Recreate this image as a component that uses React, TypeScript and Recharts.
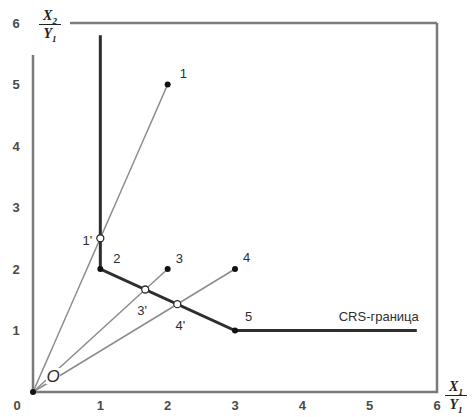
import React from "react";
import {
  ComposedChart, Line, Scatter, XAxis, YAxis, LabelList,
} from "recharts";

const W = 473;
const H = 417;

const X_TICKS = [0, 1, 2, 3, 4, 5, 6];
const Y_TICKS = [1, 2, 3, 4, 5, 6];

// box around the plot (data coords)
const LEFT_AXIS = [{ x: 0, y: 0 }, { x: 0, y: 5.48 }];
const BOTTOM_RIGHT = [{ x: 0, y: 0 }, { x: 6, y: 0 }, { x: 6, y: 6 }];
const TOP_LINE = [{ x: 0.55, y: 6 }, { x: 6, y: 6 }];

// efficient frontier
const FRONTIER = [
  { x: 1, y: 5.8 },
  { x: 1, y: 2 },
  { x: 3, y: 1 },
  { x: 5.7, y: 1 },
];

// rays from origin
const RAY_1 = [{ x: 0, y: 0 }, { x: 2, y: 5 }];
const RAY_3 = [{ x: 0, y: 0 }, { x: 2, y: 2 }];
const RAY_4 = [{ x: 0, y: 0 }, { x: 3, y: 2 }];

const UNITS = [
  { name: "1", x: 2, y: 5 },
  { name: "2", x: 1, y: 2 },
  { name: "3", x: 2, y: 2 },
  { name: "4", x: 3, y: 2 },
  { name: "5", x: 3, y: 1 },
];
const ORIGIN = [{ name: "O", x: 0, y: 0 }];
const PROJECTIONS = [
  { name: "1'", x: 1, y: 2.5 },
  { name: "3'", x: 5 / 3, y: 5 / 3 },
  { name: "4'", x: 15 / 7, y: 10 / 7 },
];
const FRONTIER_LABEL = [{ name: "CRS-граница", x: 5.7, y: 1 }];

const LABEL_OFFSET: Record<string, [number, number, string]> = {
  "1": [12, -11, "start"],
  "2": [13, -11, "start"],
  "3": [8, -11, "start"],
  "4": [8, -12, "start"],
  "5": [10, -14, "start"],
  "1'": [-8, 2, "end"],
  "3'": [-3, 21, "middle"],
  "4'": [3, 21, "middle"],
  "O": [20, -16, "middle"],
  "CRS-граница": [2, -14, "end"],
};

const FRAME = "#7a7a7a";
const RAY = "#8c8c8c";
const DARK = "#2e2e2e";
const TICK = "#4a4a4a";
const FONT = "'Liberation Sans', Arial, sans-serif";

const PointLabel = (props: any) => {
  const { x, y, width, height, value } = props;
  const cx = x + (width || 0) / 2;
  const cy = y + (height || 0) / 2;
  const [dx, dy, anchor] = LABEL_OFFSET[value] || [0, 0, "start"];
  const isO = value === "O";
  return (
    <g>
      {isO && <rect x={cx + dx - 7} y={cy + dy - 8} width={14} height={16} fill="#fff" />}
      <text x={cx + dx} y={cy + dy} textAnchor={anchor} dominantBaseline="central"
        fontFamily={FONT} fontSize={isO ? 17 : 13}
        fontStyle={isO ? "italic" : "normal"} fill={DARK}>
        {value}
      </text>
    </g>
  );
};

const XTick = ({ x, y, payload }: any) => (
  <text x={payload.value === 0 ? x - 16 : x} y={y + 10} textAnchor="middle"
    fontFamily={FONT} fontSize={13} fontWeight="bold" fill={TICK}>
    {payload.value}
  </text>
);

const YTick = ({ y, payload }: any) => (
  <text x={16} y={y} textAnchor="middle" dominantBaseline="central"
    fontFamily={FONT} fontSize={13} fontWeight="bold" fill={TICK}>
    {payload.value}
  </text>
);

const dot = (fill: string) => (p: any) =>
  <circle cx={p.cx} cy={p.cy} r={3} fill={fill} />;

const openDot = (p: any) =>
  <circle cx={p.cx} cy={p.cy} r={3.5} fill="#fff" stroke={DARK} strokeWidth={1.3} />;

const noDot = () => <g />;

const Frac = ({ top, left, num }: { top: number; left: number; num: string }) => (
  <div style={{
    position: "absolute", top, left, fontFamily: "'Liberation Serif', serif",
    fontWeight: "bold", fontStyle: "italic", fontSize: 14, color: "#222",
    lineHeight: "15px", textAlign: "center", width: 22,
  }}>
    <div style={{ borderBottom: "1.5px solid #222", paddingBottom: 1 }}>
      X<sub style={{ fontSize: 9, lineHeight: 0 }}>{num}</sub>
    </div>
    <div style={{ paddingTop: 1 }}>Y<sub style={{ fontSize: 9, lineHeight: 0 }}>1</sub></div>
  </div>
);

export default function App() {
  return (
    <div style={{ position: "absolute", left: 0, top: 0, width: W, height: H, background: "#fff" }}>
      <ComposedChart width={W} height={H} margin={{ top: 23, right: 36, left: 0, bottom: 0 }}>
        <XAxis type="number" dataKey="x" domain={[0, 6]} ticks={X_TICKS}
          axisLine={false} tickLine={false} height={25} tick={<XTick />} />
        <YAxis type="number" dataKey="y" domain={[0, 6]} ticks={Y_TICKS}
          axisLine={false} tickLine={false} width={33} tick={<YTick />} />

        <Line data={LEFT_AXIS} dataKey="y" stroke={FRAME} strokeWidth={2.5} dot={false} isAnimationActive={false} />
        <Line data={BOTTOM_RIGHT} dataKey="y" stroke={FRAME} strokeWidth={2.5} dot={false} isAnimationActive={false} />
        <Line data={TOP_LINE} dataKey="y" stroke={FRAME} strokeWidth={2.5} dot={false} isAnimationActive={false} />

        <Line data={RAY_1} dataKey="y" stroke={RAY} strokeWidth={1.5} dot={false} isAnimationActive={false} />
        <Line data={RAY_3} dataKey="y" stroke={RAY} strokeWidth={1.5} dot={false} isAnimationActive={false} />
        <Line data={RAY_4} dataKey="y" stroke={RAY} strokeWidth={1.5} dot={false} isAnimationActive={false} />

        <Line data={FRONTIER} dataKey="y" stroke={DARK} strokeWidth={3} dot={false} isAnimationActive={false} />

        <Scatter data={ORIGIN} dataKey="y" shape={dot("#111")} isAnimationActive={false}>
          <LabelList dataKey="name" content={<PointLabel />} />
        </Scatter>
        <Scatter data={UNITS} dataKey="y" shape={dot("#111")} isAnimationActive={false}>
          <LabelList dataKey="name" content={<PointLabel />} />
        </Scatter>
        <Scatter data={PROJECTIONS} dataKey="y" shape={openDot} isAnimationActive={false}>
          <LabelList dataKey="name" content={<PointLabel />} />
        </Scatter>
        <Scatter data={FRONTIER_LABEL} dataKey="y" shape={noDot} isAnimationActive={false}>
          <LabelList dataKey="name" content={<PointLabel />} />
        </Scatter>
      </ComposedChart>
      <Frac top={8} left={39} num="2" />
      <Frac top={379} left={445} num="1" />
    </div>
  );
}
